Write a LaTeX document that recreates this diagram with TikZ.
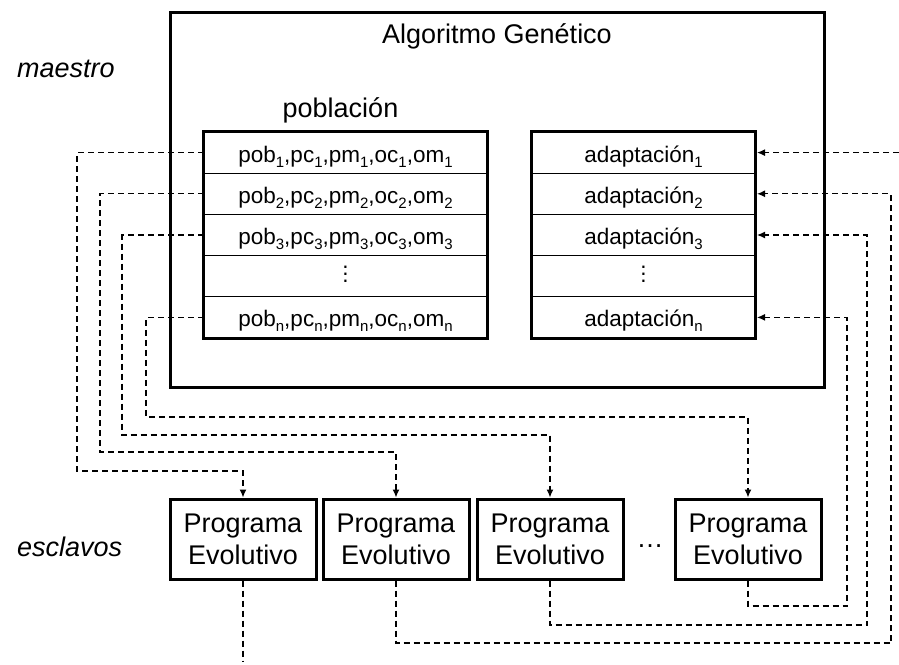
\documentclass[tikz,border=0pt]{standalone}
\usepackage{fontspec}
\setmainfont{Liberation Sans}
\usetikzlibrary{arrows.meta}
\newcommand{\sbx}[1]{\raisebox{-0.22em}{\fontsize{15}{15}\selectfont #1}}
\newcommand{\vdts}{\raisebox{3pt}{\vbox{\baselineskip=7pt\lineskiplimit=-20pt\hbox{.}\hbox{.}\hbox{.}}}}
\begin{document}
\begin{tikzpicture}[x=1pt,y=-1pt,
  bigtxt/.style={font=\fontsize{27}{32}\selectfont, inner sep=0pt},
  rowbox/.style={draw, line width=1pt, minimum width=283pt, minimum height=41.2pt,
     inner sep=0pt, text height=22pt, text depth=3pt, font=\fontsize{22.5}{27}\selectfont},
  rowboxr/.style={rowbox, minimum width=223pt},
  prog/.style={draw, line width=3pt, minimum width=146pt, minimum height=80pt, inner sep=0pt,
     align=center, font=\fontsize{27}{32}\selectfont},
  thick3/.style={line width=3pt},
  dl/.style={line width=1.3pt, dash pattern=on 6pt off 4pt},
  arr/.style={-{Latex[length=8pt,width=7pt]}}
]
\useasboundingbox (0,0) rectangle (899,664);
% outer box
\node[draw, thick3, minimum width=654pt, minimum height=375pt, inner sep=0pt] (ag) at (497,199.5) {};
\node[bigtxt, anchor=base] (title) at (497,43) {Algoritmo Genético};
\node[bigtxt, anchor=base west] (maestro) at (17,77) {\itshape maestro};
\node[bigtxt, anchor=base] (pobl) at (340.5,117) {población};
\node[bigtxt, anchor=base west] (escl) at (17,556) {\itshape esclavos};
% left table
\node[rowbox] (p1) at (345.5,152.6) {pob\sbx{1},pc\sbx{1},pm\sbx{1},oc\sbx{1},om\sbx{1}};
\node[rowbox] (p2) at (345.5,193.8) {pob\sbx{2},pc\sbx{2},pm\sbx{2},oc\sbx{2},om\sbx{2}};
\node[rowbox] (p3) at (345.5,235.0) {pob\sbx{3},pc\sbx{3},pm\sbx{3},oc\sbx{3},om\sbx{3}};
\node[rowbox] (p4) at (345.5,276.2) {\vdts};
\node[rowbox] (pn) at (345.5,317.4) {pob\sbx{n},pc\sbx{n},pm\sbx{n},oc\sbx{n},om\sbx{n}};
\draw[thick3] (p1.north west) rectangle (pn.south east);
% right table
\node[rowboxr] (a1) at (643.5,152.6) {adaptación\sbx{1}};
\node[rowboxr] (a2) at (643.5,193.8) {adaptación\sbx{2}};
\node[rowboxr] (a3) at (643.5,235.0) {adaptación\sbx{3}};
\node[rowboxr] (a4) at (643.5,276.2) {\vdts};
\node[rowboxr] (an) at (643.5,317.4) {adaptación\sbx{n}};
\draw[thick3] (a1.north west) rectangle (an.south east);
% slave programs
\node[prog] (e1) at (243,539) {Programa\\Evolutivo};
\node[prog] (e2) at (396,539) {Programa\\Evolutivo};
\node[prog] (e3) at (550,539) {Programa\\Evolutivo};
\node[prog] (e4) at (748,539) {Programa\\Evolutivo};
\node[bigtxt, anchor=base] (dots) at (650,547) {…};
% helper coordinates
\coordinate (l1) at (77,471);
\coordinate (l2) at (100,452);
\coordinate (l3) at (122,435);
\coordinate (l4) at (146,417);
\coordinate (r2) at (891,643);
\coordinate (r3) at (867,625);
\coordinate (r4) at (847,606);
\coordinate (redge) at (899,0);
\coordinate (out1) at (243,662);
% master -> slaves
\draw[dl,arr] (p1.west) -| (l1) -| (e1.north);
\draw[dl,arr] (p2.west) -| (l2) -| (e2.north);
\draw[dl,arr] (p3.west) -| (l3) -| (e3.north);
\draw[dl,arr] (pn.west) -| (l4) -| (e4.north);
% slaves -> master
\draw[dl,arr] (a1.east -| redge) -- ([xshift=1.5pt]a1.east);
\draw[dl,arr] (e2.south) |- (r2) |- ([xshift=1.5pt]a2.east);
\draw[dl,arr] (e3.south) |- (r3) |- ([xshift=1.5pt]a3.east);
\draw[dl,arr] (e4.south) |- (r4) |- ([xshift=1.5pt]an.east);
\draw[dl] (e1.south) -- (out1);
\end{tikzpicture}
\end{document}
